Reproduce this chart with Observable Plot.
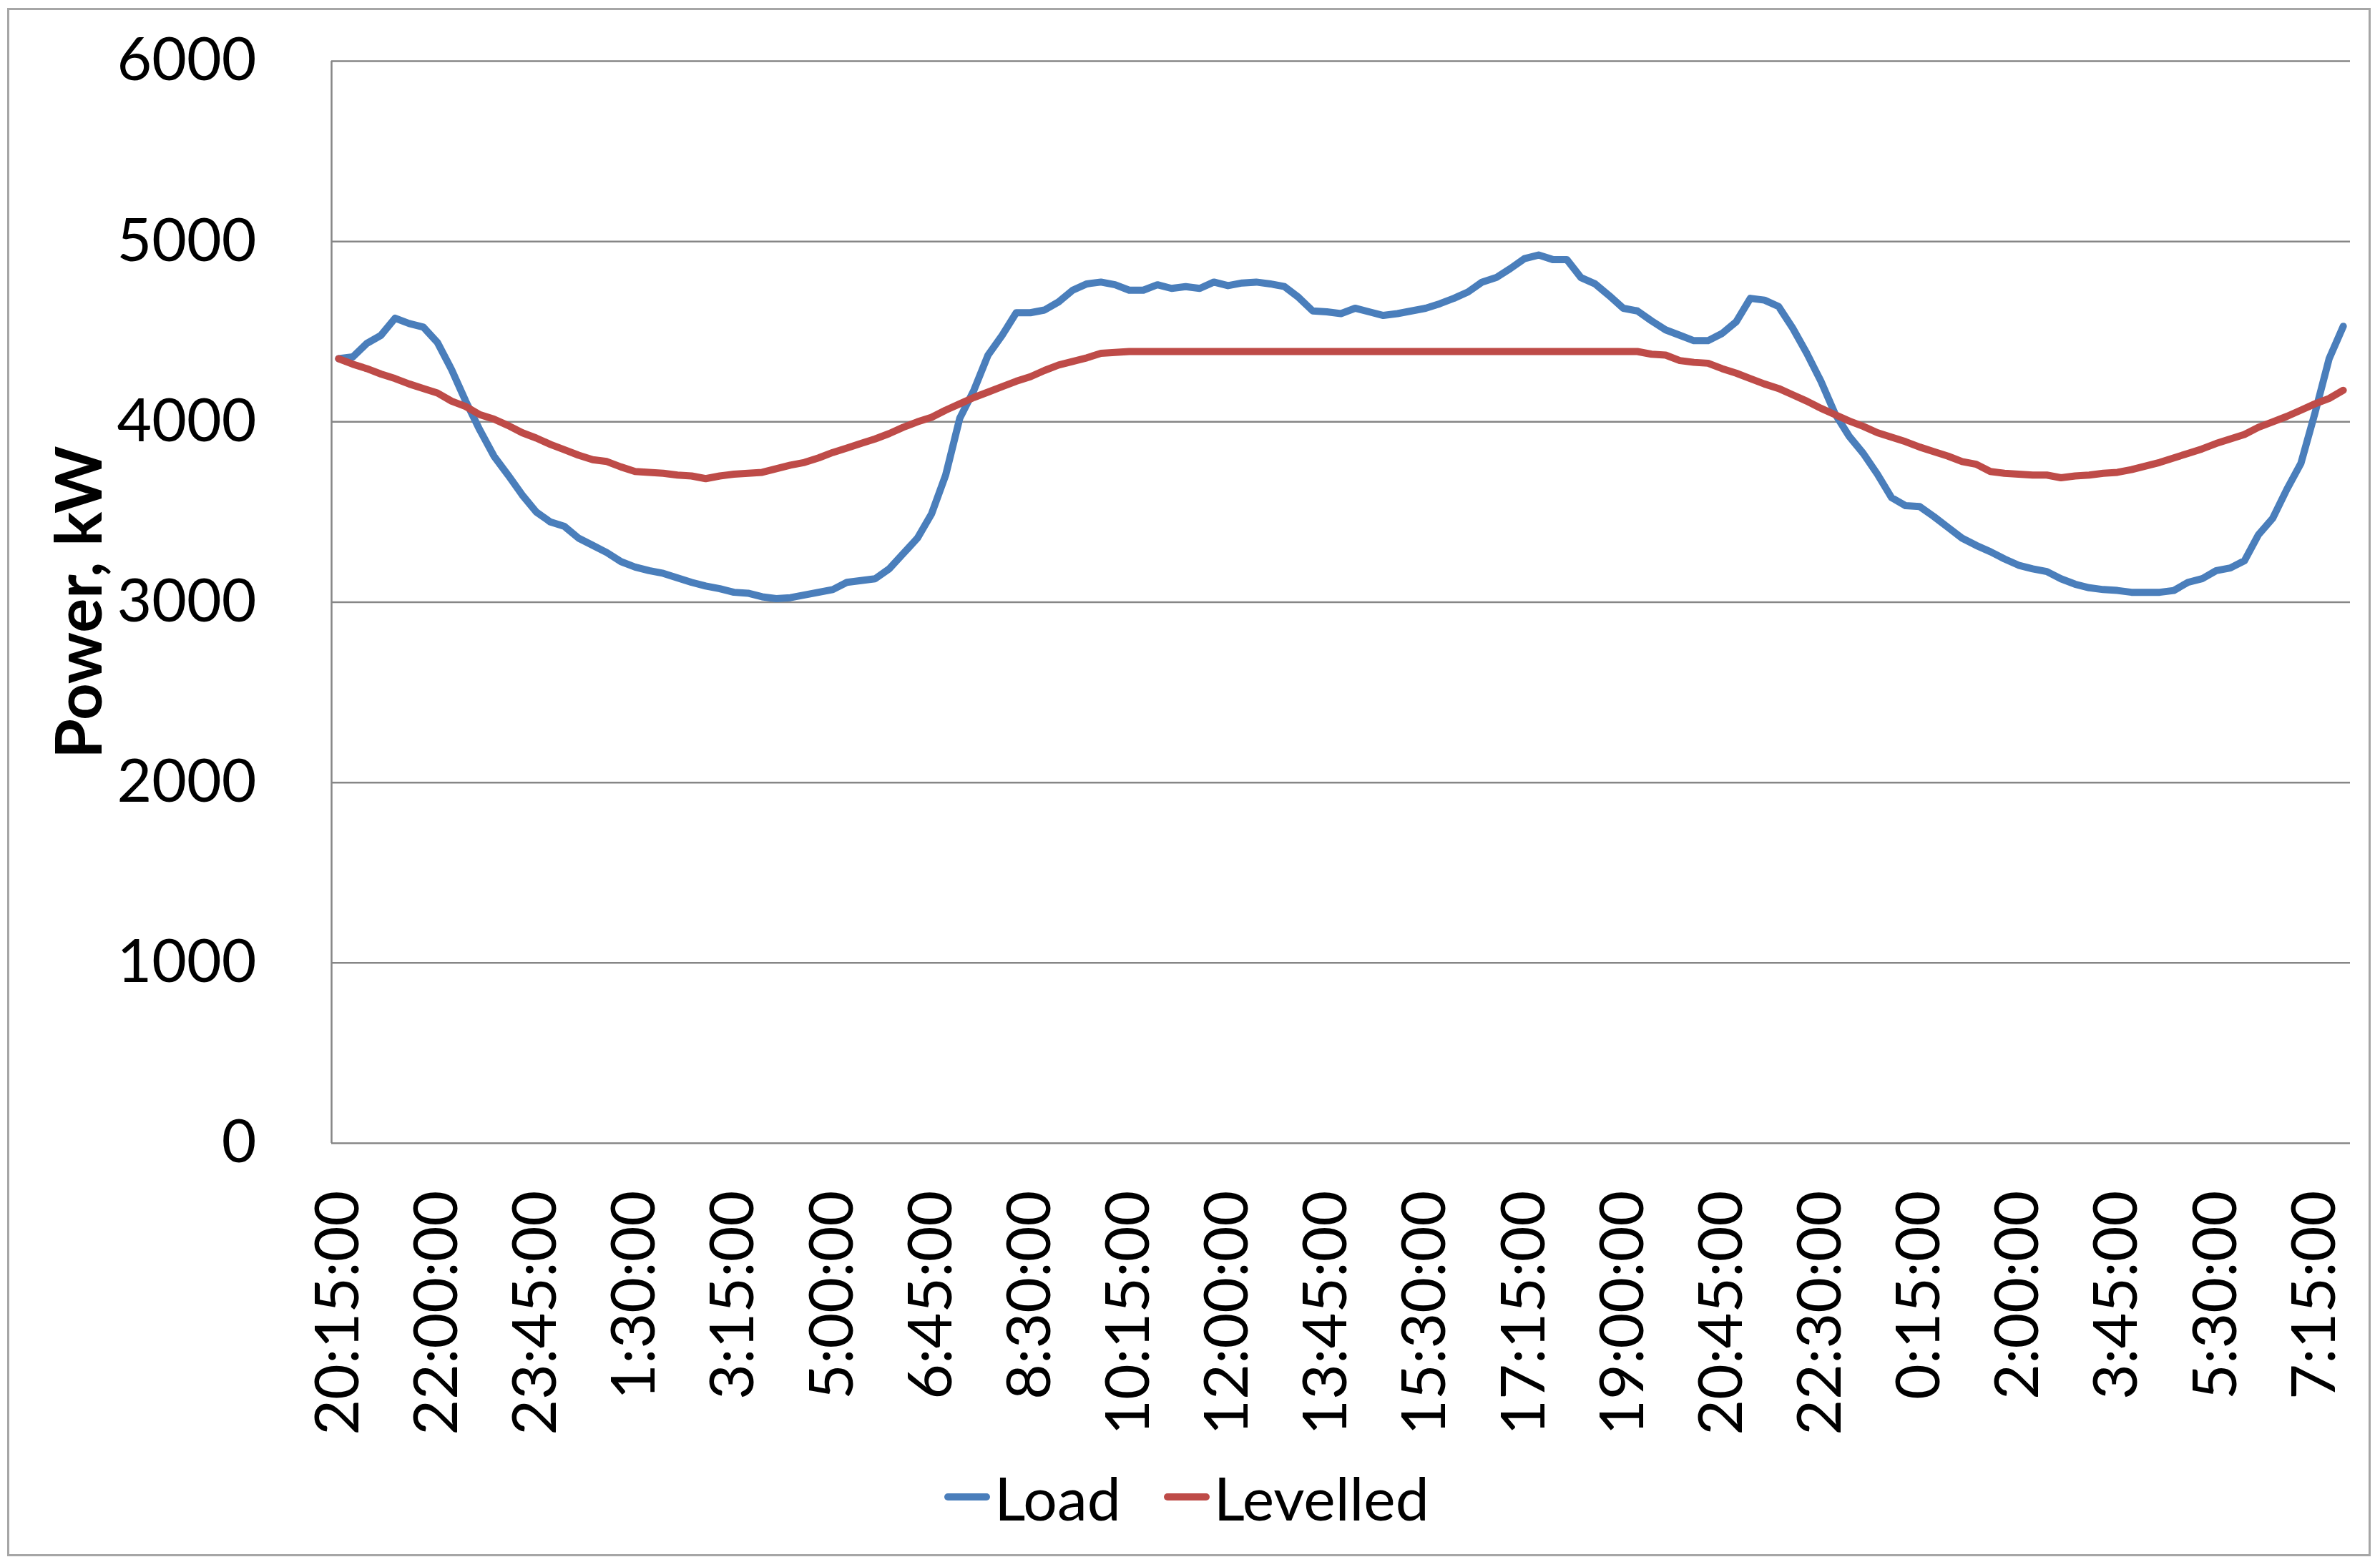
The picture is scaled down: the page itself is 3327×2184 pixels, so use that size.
<!DOCTYPE html>
<html>
<head>
<meta charset="utf-8">
<script src="https://cdn.jsdelivr.net/npm/d3@7"></script>
<script src="https://cdn.jsdelivr.net/npm/@observablehq/plot@0.6"></script>
<style>
  html, body { margin: 0; padding: 0; background: #fff; }
  #wrap { position: relative; width: 3327px; height: 2184px; overflow: hidden; background: #fff; font-family: Lato, "Open Sans", sans-serif; }
  #border { position: absolute; left: 10px; top: 11px; width: 3304px; height: 2165px; border: 3px solid #a6a6a6; box-sizing: border-box; }
  #chart { position: absolute; left: 0; top: 0; }
  #legend { position: absolute; left: 0; top: 2040px; width: 3318px; height: 106px; display: flex; justify-content: center; align-items: center; font-size: 84px; color: #000; }
  .item { display: flex; align-items: center; margin: 0 30px; }
  .sw { display: inline-block; width: 64px; height: 10px; border-radius: 5px; margin-right: 6px; }
</style>
</head>
<body>
<div id="wrap">
  <div id="border"></div>
  <div id="chart"></div>
  <div id="legend"></div>
</div>
<script>
// Tick labels (every 7th 15-minute category)
const tickLabels = ["20:15:00","22:00:00","23:45:00","1:30:00","3:15:00","5:00:00","6:45:00","8:30:00","10:15:00","12:00:00","13:45:00","15:30:00","17:15:00","19:00:00","20:45:00","22:30:00","0:15:00","2:00:00","3:45:00","5:30:00","7:15:00"];
const yTicks = [0, 1000, 2000, 3000, 4000, 5000, 6000];
const seriesNames = ["Load", "Levelled"];
const seriesColors = ["#4A7EBB", "#BE4B48"];

// Load, kW (15-minute steps)
const load = [
  4350, 4360, 4435, 4480, 4575, 4545, 4525, 4440, 4290, 4115,
  3955, 3810, 3705, 3595, 3500, 3445, 3420, 3355, 3315, 3275,
  3225, 3195, 3175, 3160, 3135, 3110, 3090, 3075, 3055, 3050,
  3030, 3020, 3025, 3040, 3055, 3070, 3110, 3120, 3130, 3185,
  3270, 3355, 3490, 3705, 4020, 4175, 4370, 4480, 4605, 4605,
  4620, 4665, 4730, 4765, 4775, 4760, 4730, 4730, 4760, 4740,
  4750, 4740, 4775, 4755, 4770, 4775, 4765, 4750, 4690, 4615,
  4610, 4600, 4630, 4610, 4590, 4600, 4615, 4630, 4655, 4685,
  4720, 4775, 4800, 4850, 4905, 4925, 4900, 4900, 4800, 4765,
  4700, 4630, 4615, 4560, 4510, 4480, 4450, 4450, 4490, 4555,
  4685, 4675, 4640, 4520, 4380, 4225, 4045, 3920, 3825, 3710,
  3580, 3535, 3530, 3475, 3415, 3355, 3315, 3280, 3240, 3205,
  3185, 3170, 3130, 3100, 3080, 3070, 3065, 3055, 3055, 3055,
  3065, 3110, 3130, 3175, 3190, 3230, 3375, 3465, 3625, 3770,
  4050, 4350, 4530
];

// Levelled, kW
const levelled = [
  4350, 4320, 4295, 4265, 4240, 4210, 4185, 4160, 4115, 4085,
  4040, 4015, 3980, 3940, 3910, 3875, 3845, 3815, 3790, 3780,
  3750, 3725, 3720, 3715, 3705, 3700, 3685, 3700, 3710, 3715,
  3720, 3740, 3760, 3775, 3800, 3830, 3855, 3880, 3905, 3935,
  3970, 4000, 4025, 4065, 4100, 4135, 4165, 4195, 4225, 4250,
  4285, 4315, 4335, 4355, 4380, 4385, 4390, 4390, 4390, 4390,
  4390, 4390, 4390, 4390, 4390, 4390, 4390, 4390, 4390, 4390,
  4390, 4390, 4390, 4390, 4390, 4390, 4390, 4390, 4390, 4390,
  4390, 4390, 4390, 4390, 4390, 4390, 4390, 4390, 4390, 4390,
  4390, 4390, 4390, 4375, 4370, 4340, 4330, 4325, 4295, 4270,
  4240, 4210, 4185, 4150, 4115, 4075, 4040, 4005, 3975, 3940,
  3915, 3890, 3860, 3835, 3810, 3780, 3765, 3725, 3715, 3710,
  3705, 3705, 3690, 3700, 3705, 3715, 3720, 3735, 3755, 3775,
  3800, 3825, 3850, 3880, 3905, 3930, 3970, 4000, 4030, 4065,
  4100, 4130, 4175
];

const n = load.length;
const tickStep = 7;
const tickPos = tickLabels.map((_, k) => k * tickStep);
const xDomain = [-0.5, n - 0.5];

const rows = [
  ...load.map((v, i) => ({i, v, s: seriesNames[0]})),
  ...levelled.map((v, i) => ({i, v, s: seriesNames[1]}))
];

const chart = Plot.plot({
  width: 3327,
  height: 2040,
  marginLeft: 463,
  marginRight: 42,
  marginTop: 85,
  marginBottom: 442,
  style: {fontFamily: "Lato, 'Open Sans', sans-serif", fontSize: "84px", color: "#000", background: "transparent", overflow: "visible"},
  x: {type: "linear", domain: xDomain},
  y: {domain: [yTicks[0], yTicks[yTicks.length - 1]]},
  color: {domain: seriesNames, range: seriesColors},
  marks: [
    Plot.gridY(yTicks, {stroke: "#868686", strokeOpacity: 1, strokeWidth: 2.5}),
    Plot.ruleX([xDomain[0]], {stroke: "#868686", strokeWidth: 2.5}),
    Plot.axisY(yTicks, {tickSize: 0, tickPadding: 105, fontSize: 84, label: null, fill: "#000", tickFormat: d => String(d)}),
    Plot.axisX(tickPos, {tickSize: 0, tickRotate: -90, tickPadding: 66, fontSize: 86, label: null, fill: "#000",
      tickFormat: d => tickLabels[tickPos.indexOf(d)]}),
    Plot.text(["Power, kW"], {frameAnchor: "left", textAnchor: "middle", rotate: -90, dx: -350, fontWeight: "bold", fontSize: 90, fill: "#000"}),
    Plot.line(rows, {x: "i", y: "v", z: "s", stroke: "s", strokeWidth: 10, strokeLinejoin: "round", strokeLinecap: "round"})
  ]
});
document.getElementById("chart").appendChild(chart);

const legend = document.getElementById("legend");
seriesNames.forEach((name, k) => {
  const item = document.createElement("div");
  item.className = "item";
  const sw = document.createElement("span");
  sw.className = "sw";
  sw.style.background = seriesColors[k];
  const t = document.createElement("span");
  t.textContent = name;
  item.appendChild(sw);
  item.appendChild(t);
  legend.appendChild(item);
});
</script>
</body>
</html>
